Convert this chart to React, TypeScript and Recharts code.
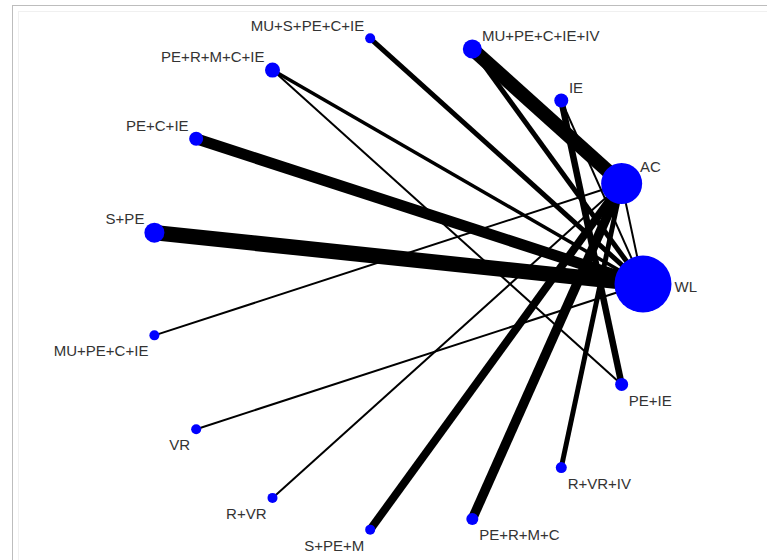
import { ScatterChart, Scatter, XAxis, YAxis } from 'recharts';

// treatments, in circle order (counter-clockwise, starting at 3 o'clock)
const NODES = [
  'WL', 'AC', 'IE', 'MU+PE+C+IE+IV', 'MU+S+PE+C+IE', 'PE+R+M+C+IE', 'PE+C+IE', 'S+PE',
  'MU+PE+C+IE', 'VR', 'R+VR', 'S+PE+M', 'PE+R+M+C', 'R+VR+IV', 'PE+IE',
];
// node weight (diameter of the vertex)
const NODE_SIZE = [57, 41, 14, 19, 10, 15, 14, 20, 10, 10, 10, 10, 12, 11, 13];

// direct comparisons
const EDGE_FROM = [
  'S+PE', 'PE+C+IE', 'MU+S+PE+C+IE', 'PE+R+M+C+IE', 'PE+R+M+C+IE', 'MU+PE+C+IE+IV',
  'MU+PE+C+IE+IV', 'IE', 'IE', 'AC', 'MU+PE+C+IE', 'VR', 'R+VR', 'S+PE+M', 'PE+R+M+C', 'R+VR+IV',
];
const EDGE_TO = [
  'WL', 'WL', 'WL', 'WL', 'PE+IE', 'AC',
  'WL', 'PE+IE', 'WL', 'WL', 'AC', 'WL', 'AC', 'AC', 'AC', 'AC',
];
const EDGE_STUDIES = [10, 7, 3, 2, 1, 9, 3, 4, 1, 1, 1, 1, 1, 5, 6, 3];

const W = 767;
const H = 560;
const CX = 396;
const CY = 284;
const RADIUS = 247;

const layout = NODES.map((name, i) => {
  const a = (i * 2 * Math.PI) / NODES.length;
  return {
    name,
    size: NODE_SIZE[i],
    cos: Math.cos(a),
    sin: Math.sin(a),
    x: CX + RADIUS * Math.cos(a),
    y: CY - RADIUS * Math.sin(a),
  };
});
const byName = (n: string) => layout.find((d) => d.name === n)!;

const edges = EDGE_FROM.map((f, i) => {
  const a = byName(f);
  const b = byName(EDGE_TO[i]);
  return {
    key: f + '-' + EDGE_TO[i],
    width: 1.5 * EDGE_STUDIES[i] + 0.5,
    data: [{ x: a.x, y: a.y }, { x: b.x, y: b.y }],
  };
});

const sgn = (v: number) => (Math.abs(v) < 1e-6 ? 0 : v > 0 ? 1 : -1);

const NodeShape = (props: any) => {
  const { cx, cy, payload } = props;
  const r = payload.size / 2;
  const sx = sgn(payload.cos);
  const sy = sgn(-payload.sin);
  const dx = sy === 0 ? r + 3 : sx * (r * 0.8 + 2);
  const dy = sy === 0 ? 2 : sy < 0 ? -(r * 0.3 + 11) : r * 0.3 + 14;
  return (
    <g>
      <circle cx={cx} cy={cy} r={r} fill="#0000ff" />
      <text
        x={cx + dx}
        y={cy + dy}
        textAnchor={sx < 0 ? 'end' : 'start'}
        dominantBaseline="central"
        fontSize={15}
        fill="#333"
        fontFamily="'Liberation Sans', Arial, sans-serif"
      >
        {payload.name}
      </text>
    </g>
  );
};

export default function App() {
  return (
    <div style={{ position: 'absolute', left: 0, top: 0, width: W, height: H, background: '#fff' }}>
      <div
        style={{
          position: 'absolute', left: 12, top: 5, right: 0, bottom: 0,
          borderTop: '1px solid #bdbdbd', borderLeft: '1px solid #bdbdbd',
        }}
      />
      <div
        style={{
          position: 'absolute', left: 18, top: 11, right: 0, bottom: 0,
          borderTop: '1px solid #f0f0f0', borderLeft: '1px solid #f0f0f0',
        }}
      />
      <div style={{ position: 'absolute', left: 0, top: 0 }}>
        <ScatterChart width={W} height={H} margin={{ top: 0, right: 0, bottom: 0, left: 0 }}>
          <XAxis type="number" dataKey="x" domain={[0, W]} hide />
          <YAxis type="number" dataKey="y" domain={[0, H]} reversed hide />
          {edges.map((e) => (
            <Scatter
              key={e.key}
              data={e.data}
              fill="#000"
              line={{ stroke: '#000', strokeWidth: e.width }}
              shape={() => <g />}
              isAnimationActive={false}
            />
          ))}
          <Scatter data={layout} shape={NodeShape} isAnimationActive={false} />
        </ScatterChart>
      </div>
    </div>
  );
}
